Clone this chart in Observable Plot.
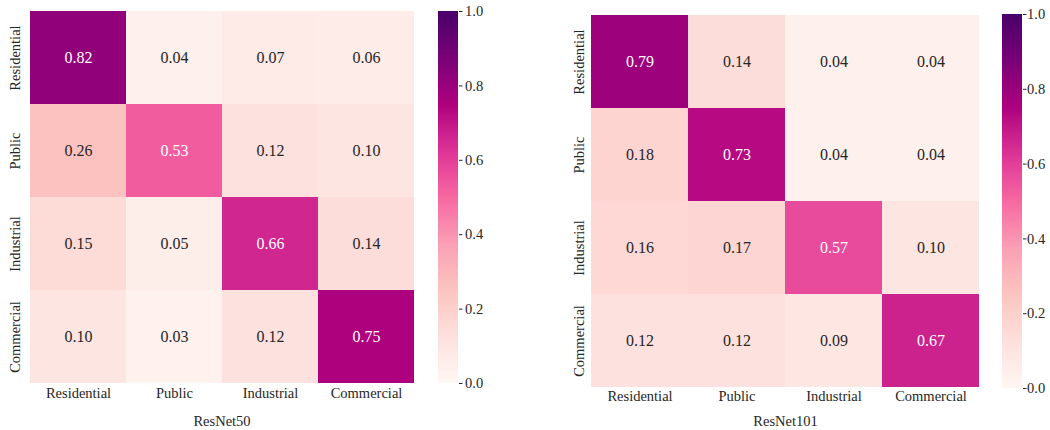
<!DOCTYPE html>
<html>
<head>
<meta charset="utf-8">
<script src="https://cdn.jsdelivr.net/npm/d3@7"></script>
<script src="https://cdn.jsdelivr.net/npm/@observablehq/plot@0.6"></script>
<style>
  html, body { margin: 0; padding: 0; background: #fff; }
  #figure { position: relative; width: 1050px; height: 430px; overflow: hidden; }
  #figure svg { position: absolute; top: 0; overflow: visible; }
</style>
</head>
<body>
<div id="figure"></div>
<script>
// Land-use classes (rows = actual, columns = predicted)
const categories = ["Residential", "Public", "Industrial", "Commercial"];

// Normalised confusion matrices
const resnet50 = [
  [0.82, 0.04, 0.07, 0.06],
  [0.26, 0.53, 0.12, 0.10],
  [0.15, 0.05, 0.66, 0.14],
  [0.10, 0.03, 0.12, 0.75]
];
const resnet101 = [
  [0.79, 0.14, 0.04, 0.04],
  [0.18, 0.73, 0.04, 0.04],
  [0.16, 0.17, 0.57, 0.10],
  [0.12, 0.12, 0.09, 0.67]
];

const colorbarTicks = [0, 0.2, 0.4, 0.6, 0.8, 1.0];

// RdPu stops, linearly interpolated
const rdpuColors = ["#fff7f3", "#fde0dd", "#fcc5c0", "#fa9fb5", "#f768a1", "#dd3497", "#ae017e", "#7a0177", "#49006a"];
const rdpuStops = rdpuColors.map((_, i) => i / (rdpuColors.length - 1));

const colorScale = {type: "linear", domain: rdpuStops, range: rdpuColors, interpolate: "rgb"};
const font = "'Liberation Serif', 'Times New Roman', Times, serif";
const ink = "#262626";

function heatmap(matrix, title, m) {
  const cells = matrix.flatMap((row, i) =>
    row.map((value, j) => ({actual: categories[i], predicted: categories[j], value}))
  );
  return Plot.plot({
    width: 430,
    height: 430,
    marginLeft: m.left,
    marginRight: m.right,
    marginTop: m.top,
    marginBottom: m.bottom,
    style: {fontFamily: font, fontSize: "14.5px", color: ink, background: "transparent"},
    x: {domain: categories, padding: 0, axis: null},
    y: {domain: categories, padding: 0, axis: null},
    color: colorScale,
    marks: [
      Plot.cell(cells, {x: "predicted", y: "actual", fill: "value", inset: 0, shapeRendering: "crispEdges"}),
      Plot.text(cells.filter(d => d.value > 0.4), {
        x: "predicted", y: "actual", text: d => d.value.toFixed(2), fill: "white", fontSize: 16
      }),
      Plot.text(cells.filter(d => d.value <= 0.4), {
        x: "predicted", y: "actual", text: d => d.value.toFixed(2), fill: ink, fontSize: 16
      }),
      // column labels
      Plot.text(categories, {x: d => d, frameAnchor: "bottom", dy: m.tickDy, fill: ink}),
      // row labels, rotated
      Plot.text(categories, {y: d => d, frameAnchor: "left", textAnchor: "middle", dx: m.rowDx, rotate: -90, fill: ink}),
      // model name
      Plot.text([title], {frameAnchor: "bottom", dy: m.titleDy, fill: ink})
    ]
  });
}

function colorbar(m) {
  const n = 256;
  const slices = d3.range(n).map(i => i / n);
  return Plot.plot({
    width: m.width,
    height: 430,
    marginLeft: 0,
    marginRight: m.width - 20,
    marginTop: m.top,
    marginBottom: m.bottom,
    style: {fontFamily: font, fontSize: "14.5px", color: ink, background: "transparent"},
    x: {domain: [0, 1], axis: null},
    y: {domain: [0, 1]},
    color: colorScale,
    marks: [
      Plot.rect(slices, {x1: 0, x2: 1, y1: d => d, y2: d => Math.min(1, d + 2 / n), fill: d => d + 0.5 / n}),
      Plot.axisY({anchor: "right", ticks: colorbarTicks, tickSize: 3.5, tickPadding: m.pad, tickFormat: d3.format(".1f"), label: null, stroke: ink})
    ]
  });
}

const fig = document.getElementById("figure");

const place = (svg, left) => { svg.style.left = left + "px"; fig.appendChild(svg); };

place(heatmap(resnet50, "ResNet50", {left: 28, right: 15, top: 11, bottom: 47, tickDy: 14, titleDy: 42, rowDx: -13}), 0);
place(colorbar({width: 60, top: 11, bottom: 47, pad: 3}), 438);

place(heatmap(resnet101, "ResNet101", {left: 31, right: 11, top: 14, bottom: 42, tickDy: 12, titleDy: 37, rowDx: -12.5}), 560);
place(colorbar({width: 48, top: 14, bottom: 42, pad: 1}), 1002);
</script>
</body>
</html>
